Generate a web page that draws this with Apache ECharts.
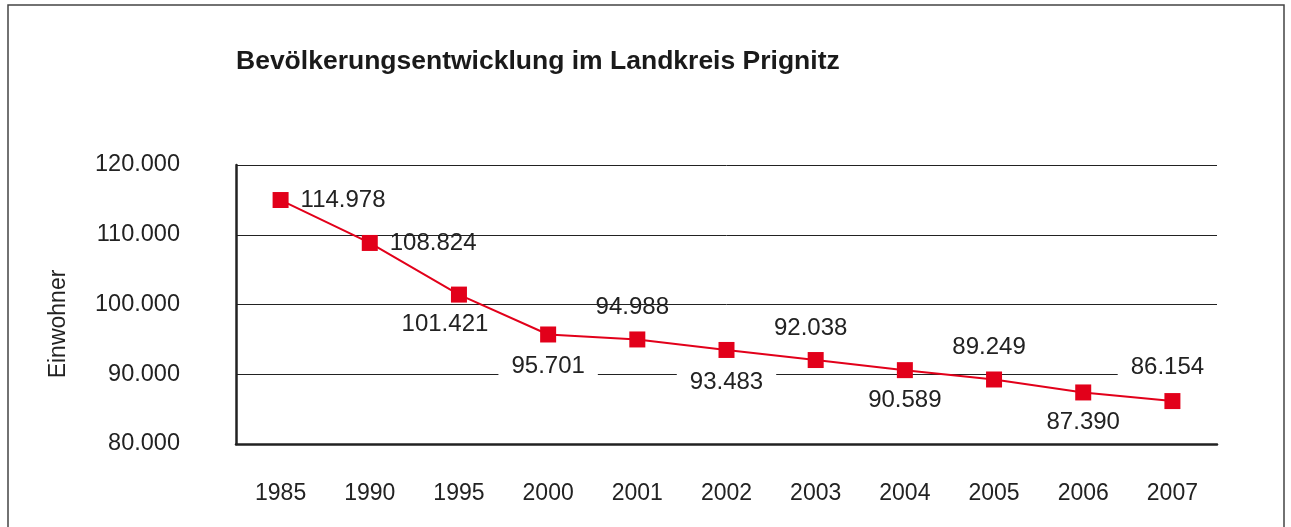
<!DOCTYPE html>
<html lang="de">

<head>
  <meta charset="UTF-8">
  <title>Bevölkerungsentwicklung im Landkreis Prignitz</title>
  <script src="https://cdn.jsdelivr.net/npm/echarts@6.0.0/dist/echarts.min.js"></script>
  <style>
    html,
    body {
      height: 100%;
      margin: 0;
      padding: 0;
      background-color: #fff;
    }

    #chart {
      width: 1291px;
      height: 527px;
    }
  </style>
</head>

<body>
  <div id="chart"></div>
  <script>
    const years = ['1985', '1990', '1995', '2000', '2001', '2002', '2003', '2004', '2005', '2006', '2007'];
    const einwohner = [114978, 108824, 101421, 95701, 94988, 93483, 92038, 90589, 89249, 87390, 86154];
    // where each value label sits relative to its point
    const labelSide = ['right', 'right', 'below', 'below', 'above', 'below', 'above', 'below', 'above', 'below', 'above'];

    const fontFam = '"Liberation Sans", Arial, sans-serif';
    const fmt = v => {
      const s = String(v);
      return s.slice(0, s.length - 3) + '.' + s.slice(-3);
    };

    const points = einwohner.map((v, i) => {
      const side = labelSide[i];
      const label = { color: '#222' };
      if (side === 'right') {
        label.position = 'right';
        label.distance = 12;
        label.offset = [0, 0];
      } else if (side === 'above') {
        label.position = 'top';
        label.distance = 12;
        label.offset = [-5, 0];
      } else {
        label.position = 'bottom';
        label.distance = 10;
        label.offset = [i === 2 ? -14 : 0, 0];
      }
      // labels sitting on a gridline get a white box so the line is cut
      if (i === 3 || i === 5 || i === 10) {
        label.backgroundColor = '#fff';
        label.padding = [2, 13];
      }
      return { value: v, label: label };
    });

    const chart = echarts.init(document.getElementById('chart'));
    chart.setOption({
      animation: false,
      textStyle: { fontFamily: fontFam },
      title: {
        text: 'Bevölkerungsentwicklung im Landkreis Prignitz',
        left: 231,
        top: 43,
        textStyle: { fontSize: 26.5, fontWeight: 'bold', color: '#1a1a1a', fontFamily: fontFam }
      },
      graphic: [
        {
          type: 'rect',
          shape: { x: 8, y: 5, width: 1276, height: 600 },
          style: { fill: 'none', stroke: '#444', lineWidth: 1.5 },
          silent: true
        },
        {
          type: 'text',
          x: 59,
          y: 324,
          rotation: Math.PI / 2,
          style: {
            text: 'Einwohner',
            fontSize: 23,
            fontFamily: fontFam,
            fill: '#222',
            align: 'center',
            verticalAlign: 'middle'
          }
        }
      ],
      grid: { left: 236, right: 74, top: 165, bottom: 83 },
      xAxis: {
        type: 'category',
        data: years,
        boundaryGap: true,
        axisLine: { lineStyle: { color: '#222', width: 2.5 } },
        axisTick: { show: false },
        axisLabel: { fontSize: 23, color: '#222', margin: 38 },
        splitLine: { show: false }
      },
      yAxis: {
        type: 'value',
        min: 80000,
        max: 120000,
        interval: 10000,
        axisLine: { show: true, lineStyle: { color: '#222', width: 2.5 } },
        axisTick: { show: false },
        axisLabel: { fontSize: 23.5, color: '#222', margin: 56, formatter: fmt },
        splitLine: { lineStyle: { color: '#222', width: 1 } }
      },
      series: [{
        type: 'line',
        data: points,
        symbol: 'rect',
        symbolSize: 16,
        itemStyle: { color: '#e2001a' },
        lineStyle: { color: '#e2001a', width: 2 },
        label: {
          show: true,
          fontSize: 24,
          fontFamily: fontFam,
          formatter: p => fmt(p.value)
        }
      }]
    });
  </script>
</body>

</html>
